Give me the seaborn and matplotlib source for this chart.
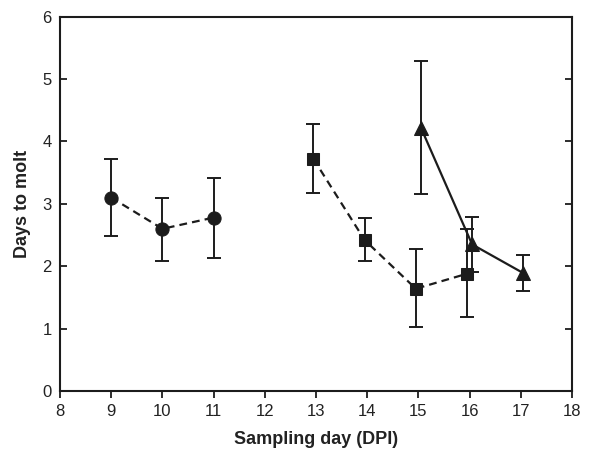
import matplotlib
matplotlib.use('Agg')
import matplotlib.pyplot as plt
import seaborn as sns
import pandas as pd

# Values
circle_days = [9, 10, 11]
circle_mean = [3.10, 2.60, 2.78]
circle_lo = [2.48, 2.09, 2.14]
circle_hi = [3.72, 3.10, 3.41]

square_days = [13, 14, 15, 16]
square_mean = [3.72, 2.42, 1.64, 1.88]
square_lo = [3.17, 2.08, 1.02, 1.18]
square_hi = [4.28, 2.77, 2.27, 2.60]

triangle_days = [15, 16, 17]
triangle_mean = [4.22, 2.35, 1.89]
triangle_lo = [3.16, 1.91, 1.61]
triangle_hi = [5.29, 2.79, 2.18]

sns.set_style('ticks')
plt.rcParams['font.family'] = ['Liberation Sans', 'DejaVu Sans']

ink = '#1c1c1c'
fig = plt.figure(figsize=(6.13, 4.5), dpi=100)
ax = fig.add_axes([0.098, 0.131, 0.835, 0.832])

series = [
    (circle_days, circle_mean, circle_lo, circle_hi, 'o', True, 0.0, 9.5),
    (square_days, square_mean, square_lo, square_hi, 's', True, -0.05, 8.5),
    (triangle_days, triangle_mean, triangle_lo, triangle_hi, '^', False, 0.05, 9.5),
]

for days, mean, lo, hi, mk, dashed, shift, ms in series:
    df = pd.DataFrame({'day': [d + shift for d in days], 'mean': mean})
    err = [[m - l for m, l in zip(mean, lo)], [h - m for m, h in zip(mean, hi)]]
    ax.errorbar(df['day'], df['mean'], yerr=err, fmt='none', ecolor=ink,
                elinewidth=1.4, capsize=5, capthick=1.4, zorder=2)
    sns.lineplot(data=df, x='day', y='mean', ax=ax, color=ink, marker=mk,
                 markersize=ms, markeredgecolor=ink, markerfacecolor=ink,
                 linewidth=1.6, zorder=3)
    if dashed:
        ax.lines[-1].set_dashes((3.5, 2.3))

ax.set_xlim(8, 18)
ax.set_ylim(0, 6)
ax.set_xticks(range(8, 19))
ax.set_yticks(range(0, 7))

for sp in ax.spines.values():
    sp.set_visible(True)
    sp.set_linewidth(1.5)
    sp.set_color(ink)

ax.tick_params(axis='x', direction='out', length=5, width=1.3, colors=ink,
               labelsize=12, labelcolor='#222222', pad=4)
ax.tick_params(axis='y', direction='in', length=5, width=1.3, colors=ink,
               labelsize=12, labelcolor='#222222', right=True, pad=6)

ax.set_xlabel('Sampling day (DPI)', fontsize=13, fontweight='bold', color='#222222', labelpad=9)
ax.set_ylabel('Days to molt', fontsize=13, fontweight='bold', color='#222222', labelpad=8)

plt.savefig('out.png', dpi=100)
